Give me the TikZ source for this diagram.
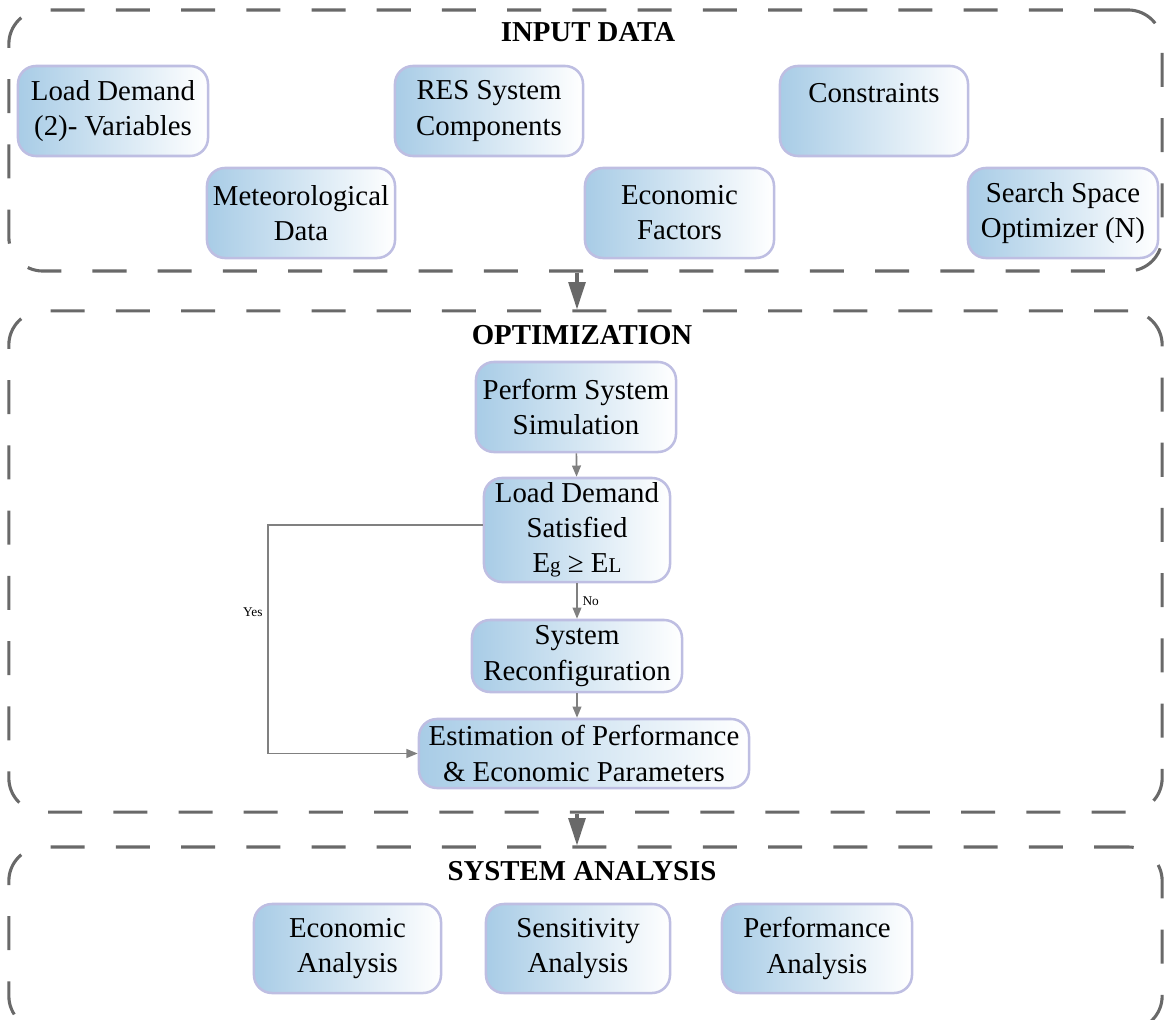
\documentclass[tikz,border=0pt]{standalone}
\usepackage{fontspec}
\setmainfont{Liberation Serif}
\usetikzlibrary{arrows.meta}
\definecolor{boxline}{RGB}{190,190,226}
\definecolor{boxfill}{RGB}{168,204,230}
\definecolor{dashgray}{RGB}{105,105,105}
\definecolor{linkgray}{RGB}{128,128,128}
\tikzset{
	panelbox/.style = {draw = dashgray, line width = 2.2pt, dash pattern = on 0.85cm off 0.78cm, rounded corners = 0.85cm, minimum width = 28.825cm},
	paneltitle/.style = {font = \fontsize{20.5}{25}\selectfont\bfseries},
	flowbox/.style = {draw = boxline, line width = 1.8pt, rounded corners = 0.45cm, left color = boxfill, right color = white, align = center, font = \fontsize{20.5}{25}\selectfont, inner sep = 0pt},
	flowlink/.style = {draw = linkgray, line width = 1.2pt, -{Triangle[length = 0.28cm, width = 0.22cm]}},
	panellink/.style = {draw = dashgray, line width = 2.2pt, -{Triangle[length = 0.68cm, width = 0.42cm]}},
	linktag/.style = {font = \fontsize{9.5}{11}\selectfont}
}
\begin{document}
\begin{tikzpicture}[x = 0.025cm, y = -0.025cm]
	\useasboundingbox (0, 0) rectangle (1165, 1020);
	% the three stages
	\node (inpanel) at (585.5, 140.5) [panelbox, minimum height = 6.525cm] {};
	\node (optpanel) at (585.5, 561.5) [panelbox, minimum height = 12.525cm] {};
	\node (anapanel) at (585.5, 938.5) [panelbox, minimum height = 4.575cm] {};
	\node (intitle) at (588, 32) [paneltitle] {INPUT DATA};
	\node (opttitle) at (582, 335) [paneltitle] {OPTIMIZATION};
	\node (anatitle) at (582, 871) [paneltitle] {SYSTEM ANALYSIS};
	% input data
	\node (load) at (113, 111) [flowbox, minimum width = 4.75cm, minimum height = 2.25cm] {Load Demand\\(2)- Variables};
	\node (res) at (489, 111) [flowbox, minimum width = 4.7cm, minimum height = 2.25cm] {RES System\\Components};
	\node (cons) at (874, 111) [flowbox, minimum width = 4.7cm, minimum height = 2.25cm] {Constraints\\\mbox{}};
	\node (met) at (301, 213) [flowbox, minimum width = 4.7cm, minimum height = 2.25cm] {Meteorological\\Data};
	\node (eco) at (679.5, 213) [flowbox, minimum width = 4.725cm, minimum height = 2.25cm] {Economic\\Factors};
	\node (sso) at (1063, 213) [flowbox, minimum width = 4.75cm, minimum height = 2.25cm] {Search Space\\Optimizer (N)};
	% optimization
	\node (sim) at (576, 407) [flowbox, minimum width = 5cm, minimum height = 2.25cm] {Perform System\\Simulation};
	\node (check) at (577, 530) [flowbox, minimum width = 4.65cm, minimum height = 2.6cm] {Load Demand\\Satisfied\\E{\fontsize{15}{15}\selectfont g} ≥ E{\fontsize{15}{15}\selectfont L}};
	\node (reconf) at (577, 656) [flowbox, minimum width = 5.25cm, minimum height = 1.8cm] {System\\Reconfiguration};
	\node (estim) at (584, 753.5) [flowbox, minimum width = 8.25cm, minimum height = 1.725cm] {Estimation of Performance\\\& Economic Parameters};
	\coordinate (loop) at (268, 0);
		\draw[flowlink] (sim) -- (check);
		\draw[flowlink] (check) -- node[right, linktag] {No} (reconf);
		\draw[flowlink] (reconf.south) -- (reconf.south |- estim.north);
		\draw[flowlink] ([yshift = 0.125cm]check.west) -| node[pos = 0.69, left, linktag] {Yes} (loop |- estim.west) -- (estim.west);
	% system analysis
	\node (econ) at (347.5, 948.5) [flowbox, minimum width = 4.675cm, minimum height = 2.225cm] {Economic\\Analysis};
	\node (sens) at (578, 948.5) [flowbox, minimum width = 4.6cm, minimum height = 2.225cm] {Sensitivity\\Analysis};
	\node (perf) at (817, 948.5) [flowbox, minimum width = 4.75cm, minimum height = 2.225cm] {Performance\\Analysis};
	% stage to stage
		\draw[panellink] (inpanel.south -| check) -- (optpanel.north -| check);
		\draw[panellink] (optpanel.south -| check) -- (anapanel.north -| check);
\end{tikzpicture}
\end{document}
